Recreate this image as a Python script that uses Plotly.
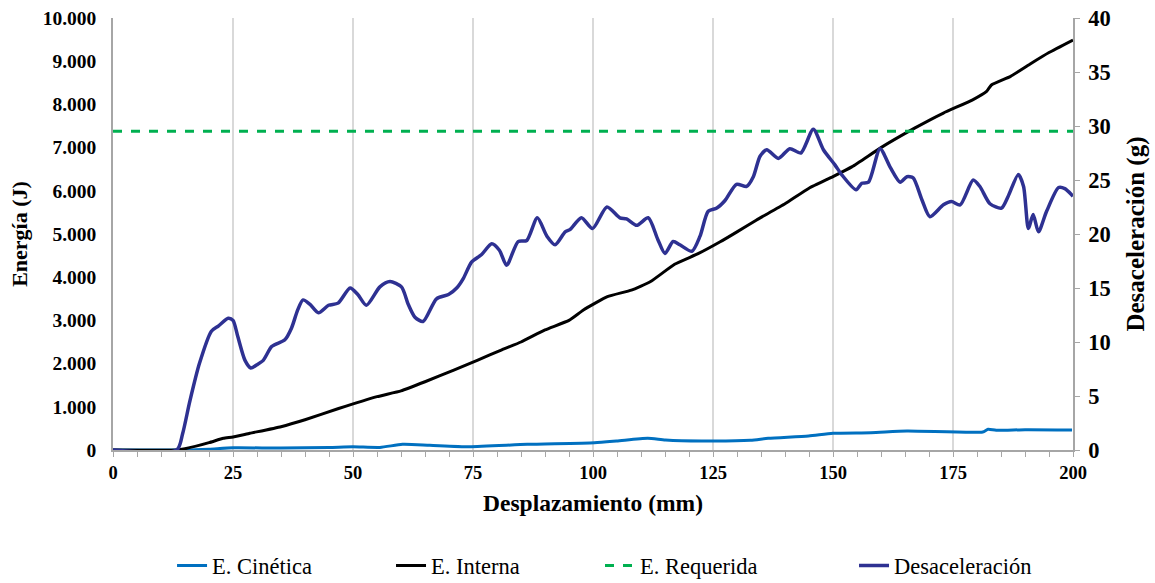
import plotly.graph_objects as go

# Desaceleración (g) vs desplazamiento (mm)
dec_x = [0, 13.3, 14.5, 16, 18, 20.5, 22, 24, 25, 26, 27.5, 28.7, 30, 31.3, 33.1, 35.8, 37.2, 38.5, 39.6,
         41, 42.8, 44.9, 46.9, 49.4, 51, 52.8, 55.6, 57.7, 60.1, 61.5, 62.9, 64.6, 67.4, 69.9, 71.6, 73,
         74.7, 76.8, 78.9, 80.5, 82.0, 84.4, 86.2, 88.4, 90.4, 92.1, 94.2, 95.2, 97.6, 99.9, 102.9, 105.6,
         107, 109.1, 111.5, 113.5, 115, 116.7, 118.1, 120.6, 122.3, 124, 125.8, 127.5, 129.9, 132, 133.4,
         134.8, 136.2, 138.6, 141, 143.3, 145.9, 148.0, 150.4, 151.8, 154.8, 156, 157.4, 159.8, 161.9, 164,
         165.4, 166.7, 168.5, 170.2, 173, 174.7, 176.5, 179.2, 180.6, 182.7, 185.1, 186.5, 188.6, 189.7,
         190.7, 191.7, 192.8, 194.5, 197, 198.3, 200]
dec_y = [0, 0, 1.5, 4.5, 8.0, 11.0, 11.5, 12.2, 12.0, 10.5, 8.3, 7.6, 7.9, 8.3, 9.6, 10.2, 11.3, 13.0, 13.9,
         13.5, 12.7, 13.4, 13.6, 15.0, 14.4, 13.4, 15.1, 15.6, 15.1, 13.5, 12.3, 11.9, 14.0, 14.4, 15.0, 15.9,
         17.4, 18.1, 19.1, 18.5, 17.1, 19.3, 19.4, 21.5, 19.8, 19.0, 20.2, 20.4, 21.5, 20.5, 22.5, 21.5,
         21.4, 20.8, 21.5, 19.5, 18.2, 19.3, 19.0, 18.4, 19.8, 22.1, 22.4, 23.1, 24.6, 24.4, 25.3,
         27.2, 27.8, 27.0, 27.9, 27.5, 29.7, 27.8, 26.4, 25.5, 24.1, 24.7, 24.8, 27.9, 26.2, 24.8,
         25.3, 25.2, 23.2, 21.6, 22.7, 23.0, 22.7, 25.0, 24.4, 22.8, 22.4, 23.5, 25.5, 24.4,
         20.5, 21.8, 20.2, 22.1, 24.3, 24.2, 23.5]

# Energía interna (J)
int_x = [0, 13.3, 15, 20, 23, 25, 28.5, 35, 40, 47, 55, 60, 65, 71, 76, 81, 85, 90, 95, 98, 103, 108, 112,
         117, 122, 126.5, 130, 134, 140, 145, 150, 154, 160, 167, 173, 179, 182, 183, 187, 191, 195, 200]
int_y = [0, 0, 30, 170, 270, 300, 386, 540, 700, 960, 1235, 1370, 1580, 1850, 2080, 2320, 2500, 2780, 3000,
         3240, 3550, 3700, 3900, 4300, 4550, 4820, 5050, 5320, 5700, 6060, 6330, 6560, 7000, 7450, 7800,
         8100, 8300, 8450, 8650, 8930, 9200, 9490]

# Energía cinética (J)
kin_x = [0, 15, 20, 25, 35, 45, 50, 55.6, 60.3, 66, 74.2, 86.3, 100.3, 104.9, 111.4, 115.1, 122.6, 132.8,
         136.5, 144.9, 150.0, 157.9, 165.4, 181.2, 182.3, 184.0, 190, 199.8]
kin_y = [0, 0, 20, 50, 45, 60, 75, 60, 131, 110, 77, 131, 170, 208, 270, 231, 208, 224, 270, 324, 386, 401,
         440, 417, 478, 455, 470, 463]

# Energía requerida (J)
req_x = [0, 200]
req_y = [7380, 7380]

FONT = "Liberation Serif, Times New Roman, serif"

fig = go.Figure()
fig.add_trace(go.Scatter(x=kin_x, y=kin_y, name="E. Cinética", mode="lines", legend="legend",
                         line=dict(color="#0070C0", width=3, shape="spline", smoothing=0.6)))
fig.add_trace(go.Scatter(x=int_x, y=int_y, name="E. Interna", mode="lines", legend="legend2",
                         line=dict(color="#000000", width=3, shape="spline", smoothing=0.4)))
fig.add_trace(go.Scatter(x=req_x, y=req_y, name="E. Requerida", mode="lines", legend="legend3",
                         line=dict(color="#00B050", width=3, dash="dash")))
fig.add_trace(go.Scatter(x=dec_x, y=dec_y, name="Desaceleración", mode="lines", yaxis="y2",
                         legend="legend4",
                         line=dict(color="#2E3192", width=3.5, shape="spline", smoothing=0.7)))


def tf(size):
    return dict(family=FONT, size=size, color="black", weight="bold")


def leg(xpos):
    return dict(orientation="h", x=xpos, xanchor="left", y=-0.318, yanchor="bottom",
                font=dict(family=FONT, size=22.5, color="black"), bgcolor="rgba(0,0,0,0)")


fig.update_layout(
    width=1155, height=583,
    margin=dict(l=113, r=82, t=18, b=133, autoexpand=False),
    paper_bgcolor="white", plot_bgcolor="white",
    separators=",.",
    showlegend=True,
    legend=leg(0.0615),
    legend2=leg(0.2896),
    legend3=leg(0.5073),
    legend4=leg(0.7719),
    xaxis=dict(range=[0, 200], dtick=25, tick0=0, showgrid=True, gridcolor="#D9D9D9", gridwidth=1.5,
               showline=True, linecolor="#A6A6A6", linewidth=1.5, ticks="outside", ticklen=5,
               tickcolor="#A6A6A6", zeroline=False, tickfont=tf(18.5),
               minor=dict(dtick=5, ticks="outside", ticklen=5, tickcolor="#A6A6A6", showgrid=False),
               title=dict(text="Desplazamiento (mm)", font=tf(23.5), standoff=13)),
    yaxis=dict(range=[0, 10000], dtick=1000, tickformat=",d", showgrid=False, showline=True,
               linecolor="#A6A6A6", linewidth=1.5, ticks="", zeroline=False, tickfont=tf(19.5),
               ticklabelstandoff=11,
               title=dict(text="Energía (J)", font=tf(22), standoff=9)),
    yaxis2=dict(range=[0, 40], dtick=5, overlaying="y", side="right", showgrid=False, showline=True,
                linecolor="#A6A6A6", linewidth=1.5, ticks="outside", ticklen=5, tickcolor="#A6A6A6",
                zeroline=False, tickfont=tf(22.5),
                ticklabelstandoff=4,
                title=dict(text="Desaceleración (g)", font=tf(25), standoff=17)),
)

fig.write_html("out.html")
